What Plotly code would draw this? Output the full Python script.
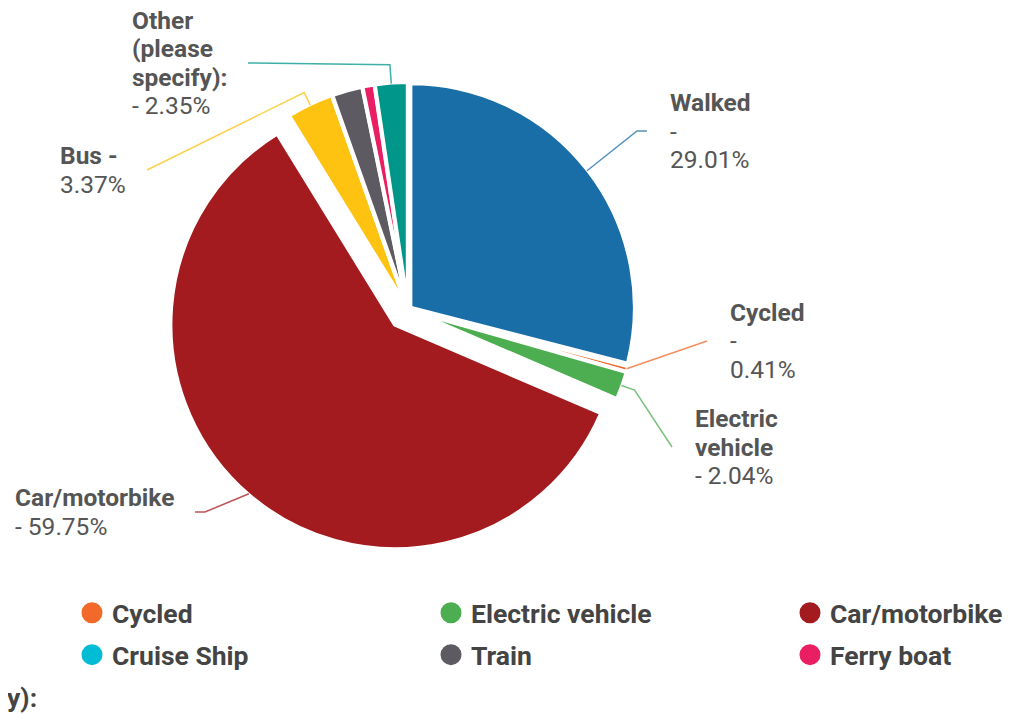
import math
import plotly.graph_objects as go

# ---------------- data ----------------
labels = ["Walked", "Cycled", "Electric vehicle", "Car/motorbike", "Bus",
          "Cruise Ship", "Train", "Ferry boat", "Other (please specify):"]
values = [29.01, 0.41, 2.04, 59.75, 3.37, 0.0, 2.20, 0.87, 2.35]
colors = ["#1a6ea8", "#f26a2a", "#4cae50", "#a31b1e", "#fec211",
          "#00bcd4", "#5e5a61", "#e91e63", "#00968a"]

# ---------------- layout constants (page pixel coordinates) ----------------
PAGE_W, PAGE_H = 1022, 714
OFF = 8                          # default body margin of the html page
W, H = PAGE_W - OFF, PAGE_H - OFF
CX, CY = 408, 309.5              # pie centre
R_VIS = 222.5                    # visible radius
LINE_W = 4                       # white gap between slices
R = R_VIS + LINE_W / 2
PULL_BIG, PULL_SMALL = 20, 3     # explode distance in px (car slice is exploded)
pull_px = [PULL_BIG if lab == "Car/motorbike" else PULL_SMALL for lab in labels]
pulls = [p / R for p in pull_px]
BOX = R * (1 + max(pulls))
TEXT_COLOR = "#555555"
FONT = "Roboto"
LABEL_SIZE = 24.5
LINE_H = 28.5

# label placement: leader end (ax, ay), text left x (tx), side, radial stub, knee, wrapped lines
label_cfg = {
    "Walked":                  dict(ax=647, ay=131, tx=668, side=1,  stub=0,  knee=10,
                                    lines=["<b>Walked</b>", "-", "{pct}"]),
    "Cycled":                  dict(ax=707, ay=341, tx=728, side=1,  stub=0,  knee=0,
                                    lines=["<b>Cycled</b>", "-", "{pct}"]),
    "Electric vehicle":        dict(ax=672, ay=447, tx=693, side=1,  stub=14, knee=0,
                                    lines=["<b>Electric</b>", "<b>vehicle</b>", "- {pct}"]),
    "Car/motorbike":           dict(ax=195, ay=512, tx=13,  side=-1, stub=0,  knee=10,
                                    lines=["<b>Car/motorbike</b>", "- {pct}"]),
    "Bus":                     dict(ax=147, ay=170, tx=58,  side=-1, stub=14, knee=0,
                                    lines=["<b>Bus -</b>", "{pct}"]),
    "Other (please specify):": dict(ax=248, ay=63,  tx=130, side=-1, stub=19, knee=0,
                                    lines=["<b>Other</b>", "<b>(please</b>", "<b>specify):</b>", "- {pct}"]),
}


def px(x):
    return (x - OFF) / W


def py(y):
    return 1 - (y - OFF) / H


fig = go.Figure()

fig.add_trace(go.Pie(
    labels=labels, values=values, sort=False, direction="clockwise", rotation=0,
    marker=dict(colors=colors, line=dict(color="white", width=LINE_W)),
    pull=pulls, textinfo="none", hoverinfo="label+percent",
    showlegend=False,
    domain=dict(x=[px(CX - BOX), px(CX + BOX)], y=[py(CY + BOX), py(CY - BOX)]),
))

# leader lines and labels computed from slice angles
total = sum(values)
cum = 0.0
shapes, annotations = [], []
for lab, v, col, pp in zip(labels, values, colors, pull_px):
    mid = (cum + v / 2) / total * 2 * math.pi
    cum += v
    if lab not in label_cfg:
        continue
    c = label_cfg[lab]
    dx, dy = math.sin(mid), -math.cos(mid)
    rr = R_VIS + pp + 1
    ex, ey = CX + rr * dx, CY + rr * dy
    pts = [(ex, ey)]
    if c["stub"]:
        pts.append((ex + c["stub"] * dx, ey + c["stub"] * dy))
    if c["knee"]:
        pts.append((c["ax"] - c["side"] * c["knee"], c["ay"]))
    pts.append((c["ax"], c["ay"]))
    path = "M " + " L ".join(f"{px(x):.5f},{py(y):.5f}" for x, y in pts)
    shapes.append(dict(type="path", path=path, xref="paper", yref="paper",
                       line=dict(color=col, width=1.5), opacity=0.75))
    n = len(c["lines"])
    for k, ln in enumerate(c["lines"]):
        ly = c["ay"] + (k - (n - 1) / 2) * LINE_H
        annotations.append(dict(
            x=px(c["tx"]), y=py(ly), xref="paper", yref="paper",
            text=ln.format(pct=f"{v:.2f}%"), showarrow=False, align="left",
            xanchor="left", yanchor="middle",
            font=dict(family=FONT, size=LABEL_SIZE, color=TEXT_COLOR),
        ))

# legend: 4 columns (the first column lies beyond the left edge of the page)
legend_ids = ["legend", "legend2", "legend3", "legend4"]
for i, (lab, col) in enumerate(zip(labels, colors)):
    fig.add_trace(go.Scatter(
        x=[None], y=[None], mode="markers", name=lab,
        marker=dict(symbol="circle", size=16, color=col, line=dict(color=col, width=5)),
        legend=legend_ids[i % 4], legendgroup=lab, showlegend=True, hoverinfo="skip",
    ))

LEG_TOP = 589
COL_STEP = 359
col_left = [72 - COL_STEP + 14, 72, 72 + COL_STEP, 72 + 2 * COL_STEP]
leg_common = dict(orientation="v", yanchor="top", xanchor="left", y=py(LEG_TOP),
                  tracegroupgap=4.5, bgcolor="rgba(0,0,0,0)",
                  font=dict(family=FONT, size=26.5, color="#444444", weight=700))
legends = {lid: dict(leg_common, x=px(xl)) for lid, xl in zip(legend_ids, col_left)}

fig.update_layout(
    width=W, height=H,
    margin=dict(l=0, r=0, t=0, b=0, autoexpand=False),
    paper_bgcolor="white", plot_bgcolor="white",
    xaxis=dict(visible=False), yaxis=dict(visible=False),
    shapes=shapes, annotations=annotations,
    **legends,
)

fig.write_html("out.html")
